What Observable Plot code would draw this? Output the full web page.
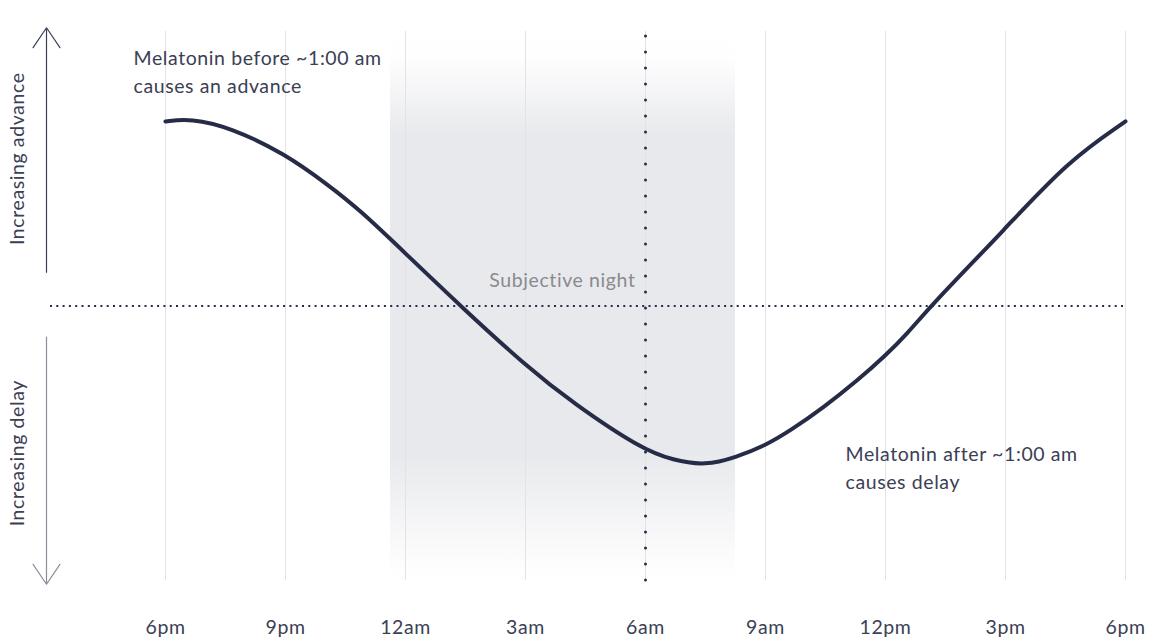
<!DOCTYPE html>
<html>
<head>
<meta charset="utf-8">
<script src="https://cdn.jsdelivr.net/npm/d3@7"></script>
<script src="https://cdn.jsdelivr.net/npm/@observablehq/plot@0.6"></script>
<style>
  html, body { margin: 0; padding: 0; background: #fff; }
  #chart { width: 1154px; height: 641px; }
  #chart svg text { letter-spacing: 0.6px; }
</style>
</head>
<body>
<div id="chart"></div>
<script>
// Hours after 6pm
const hours = [0, 0.625, 1.625, 2.975, 4.05, 4.875, 6, 7.375, 9, 10.2, 11.875, 12.7, 13.5, 14.25, 15, 15.625, 16.45, 17.3, 18, 18.55, 19.125, 21, 22.55, 24];
// Phase shift (positive = advance, negative = delay)
const shift = [1.479, 1.503, 1.431, 1.222, 0.974, 0.765, 0.421, 0, -0.477, -0.781, -1.142, -1.238, -1.278, -1.214, -1.118, -0.998, -0.814, -0.597, -0.397, -0.220, 0, 0.621, 1.158, 1.479];

const tickHours = [0, 3, 6, 9, 12, 15, 18, 21, 24];
const tickLabels = ["6pm", "9pm", "12am", "3am", "6am", "9am", "12pm", "3pm", "6pm"];

const nightStart = 5.625, nightEnd = 14.25;
const midDay = 12;
const yMin = -2.2, yMax = 2.2;

const curve = hours.map((h, i) => ({h, v: shift[i]}));
const labelOf = new Map(tickHours.map((h, i) => [h, tickLabels[i]]));

const annotations = [
  {h: -0.8, v: 1.89, text: "Melatonin before ~1:00 am\ncauses an advance"},
  {h: 17, v: -1.28, text: "Melatonin after ~1:00 am\ncauses delay"}
];
const sideLabels = [
  {h: -3.7, v: 1.18, text: "Increasing advance"},
  {h: -3.7, v: -1.18, text: "Increasing delay"}
];
const nightLabel = [{h: 11.75, v: 0.204, text: "Subjective night"}];

const ink = "#262b47";
const textColor = "#3b4055";
const fs = 19.5;

const chart = Plot.plot({
  width: 1154,
  height: 641,
  marginLeft: 165,
  marginRight: 29,
  marginTop: 31,
  marginBottom: 61,
  style: {fontFamily: "Lato, sans-serif", fontSize: fs + "px", color: textColor, background: "#fff", overflow: "visible"},
  x: {domain: [0, 24]},
  y: {domain: [yMin, yMax], axis: null},
  marks: [
    Plot.rect([{x1: nightStart, x2: nightEnd}], {x1: "x1", x2: "x2", y1: yMin, y2: yMax, fill: "url(#nightGrad)"}),
    Plot.ruleX(tickHours, {y1: yMin, y2: yMax, stroke: "#e3e3e7", strokeWidth: 1}),
    Plot.ruleY([0], {x1: -2.875, x2: 24.05, stroke: ink, strokeWidth: 2, strokeDasharray: "2 4.3"}),
    Plot.ruleX([midDay], {y1: yMin, y2: yMax, stroke: ink, strokeWidth: 3, strokeLinecap: "round", strokeDasharray: "0 16"}),
    Plot.line(curve, {x: "h", y: "v", stroke: ink, strokeWidth: 4, curve: "basis"}),
    Plot.arrow([{x: -2.975, y1: 0.27, y2: 2.23}], {x1: "x", x2: "x", y1: "y1", y2: "y2", stroke: "#3b4055", strokeWidth: 1.2, headLength: 30, headAngle: 68}),
    Plot.arrow([{x: -2.975, y1: -0.25, y2: -2.23}], {x1: "x", x2: "x", y1: "y1", y2: "y2", stroke: "#8b8e9b", strokeWidth: 1.2, headLength: 30, headAngle: 68}),
    Plot.text(sideLabels, {x: "h", y: "v", text: "text", rotate: -90, fill: textColor, fontSize: fs, letterSpacing: 0}),
    Plot.text(annotations, {x: "h", y: "v", text: "text", textAnchor: "start", fill: textColor, fontSize: fs, lineHeight: 1.45}),
    Plot.text(nightLabel, {x: "h", y: "v", text: "text", textAnchor: "end", fill: "#8a8a8f", fontSize: fs}),
    Plot.axisX(tickHours, {tickSize: 0, tickPadding: 40, tickFormat: d => labelOf.get(d), fontSize: fs, fill: textColor, label: null})
  ]
});

const defs = d3.select(chart).insert("defs", ":first-child");
const grad = defs.append("linearGradient")
  .attr("id", "nightGrad").attr("x1", 0).attr("y1", 0).attr("x2", 0).attr("y2", 1);
[[0, 0], [0.05, 0.05], [0.19, 1], [0.77, 1], [0.97, 0.1], [1, 0]].forEach(([o, a]) => {
  grad.append("stop").attr("offset", o).attr("stop-color", "#e8e9ec").attr("stop-opacity", a);
});

document.getElementById("chart").appendChild(chart);
</script>
</body>
</html>
